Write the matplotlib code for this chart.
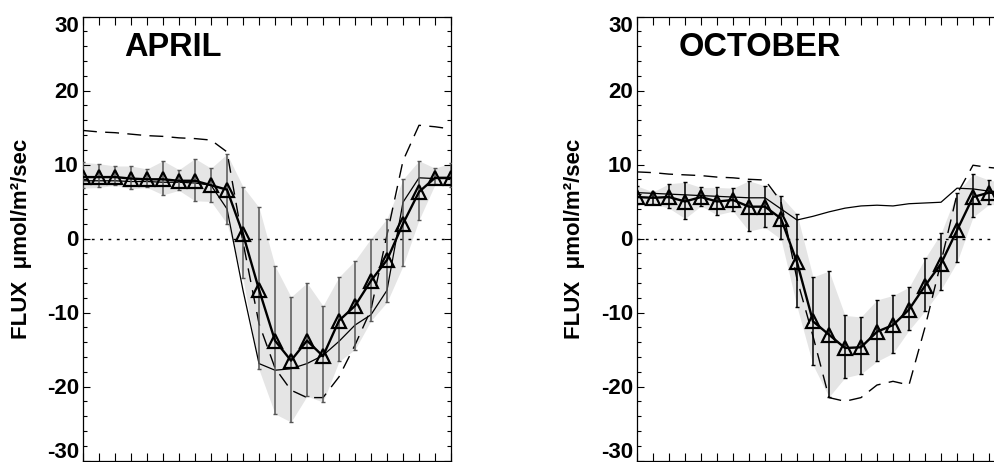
import matplotlib
matplotlib.use('Agg')
import matplotlib.pyplot as plt
import matplotlib.transforms as mtransforms
from matplotlib.ticker import MultipleLocator

plt.rcParams['font.family'] = ['Liberation Sans', 'DejaVu Sans']
plt.rcParams['font.weight'] = 'bold'
plt.rcParams['axes.unicode_minus'] = False

hours = list(range(24))

# APRIL: observed mean with error range, model (thin) and second model (dashed)
apr_mean = [8.3, 8.3, 8.3, 8.1, 8.0, 8.0, 7.8, 7.8, 7.2, 6.6, 0.6, -6.9,
            -13.8, -16.5, -13.8, -15.9, -11.1, -9.1, -5.7, -2.9, 2.0, 6.3, 8.2, 8.2]
apr_hi = [10.3, 10.1, 9.8, 9.8, 9.4, 10.5, 9.3, 10.8, 9.5, 11.4, 7.0, 4.2,
          -3.7, -7.9, -6.0, -9.1, -5.2, -3.0, 0.0, 2.7, 8.0, 10.5, 9.5, 10.2]
apr_lo = [6.8, 6.9, 7.2, 6.7, 6.9, 5.9, 6.5, 5.1, 5.0, 2.0, -5.4, -17.7,
          -23.7, -24.8, -21.3, -22.1, -16.6, -15.0, -11.1, -8.6, -3.7, 2.5, 7.3, 7.0]
apr_model = [7.8, 7.8, 7.8, 7.7, 7.7, 7.6, 7.6, 7.5, 7.2, 4.0, -7.0, -16.9,
             -17.8, -17.6, -16.9, -15.8, -13.9, -11.7, -10.3, -7.0, 4.9, 8.2, 8.1, 8.1]
apr_dash = [14.6, 14.4, 14.3, 14.1, 13.9, 13.8, 13.6, 13.5, 13.3, 11.7, -0.5, -11.5,
            -17.5, -20.5, -21.5, -21.5, -18.7, -14.4, -9.6, 0.5, 10.5, 15.3, 15.1, 14.8]

# OCTOBER
oct_mean = [5.6, 5.5, 5.6, 5.0, 5.6, 5.0, 5.2, 4.3, 4.3, 2.7, -3.2, -11.2,
            -13.0, -14.8, -14.7, -12.6, -11.7, -9.6, -6.4, -3.4, 1.1, 5.6, 6.2, 6.0]
oct_hi = [7.1, 6.3, 7.4, 7.6, 6.9, 6.9, 6.8, 7.8, 7.1, 5.7, 3.3, -5.2,
          -4.4, -10.4, -10.6, -8.3, -7.7, -6.6, -2.7, 0.7, 6.2, 8.7, 7.9, 7.5]
oct_lo = [4.6, 4.7, 4.1, 2.7, 4.4, 3.2, 3.7, 1.0, 1.5, -0.1, -9.2, -17.1,
          -21.4, -18.8, -18.3, -16.6, -15.5, -12.4, -9.8, -6.9, -3.2, 2.9, 4.6, 4.5]
oct_model = [6.2, 6.1, 6.0, 5.9, 5.8, 5.7, 5.6, 5.5, 5.5, 4.0, 2.5, 3.0,
             3.6, 4.1, 4.4, 4.5, 4.4, 4.7, 4.8, 4.9, 6.8, 6.7, 6.4, 6.3]
oct_dash = [9.0, 8.9, 8.7, 8.6, 8.5, 8.3, 8.2, 8.0, 7.9, 5.0, -5.5, -13.2,
            -21.5, -22.0, -21.5, -19.8, -19.3, -19.8, -12.0, -3.2, 6.0, 9.9, 9.6, 9.4]

YLABEL = 'FLUX  \u03bcmol/m\u00b2/sec'


def draw_panel(fig, rect, title, mean, lo, hi, model, dash, bar_color, label_x):
    ax = fig.add_axes(rect)
    ax.fill_between(hours, lo, hi, color='#e5e5e5', lw=0, zorder=1)
    ax.axhline(0, color='black', lw=1.0, ls=(0, (2, 4)), zorder=2)
    ax.plot(hours, model, color='black', lw=0.9, zorder=3)
    ax.plot(hours, dash, color='black', lw=1.0, ls=(0, (10, 6)), zorder=3)
    yerr = [[m - l for m, l in zip(mean, lo)], [h - m for m, h in zip(mean, hi)]]
    ax.errorbar(hours, mean, yerr=yerr, fmt='none', ecolor=bar_color,
                elinewidth=1.1, capsize=1.6, capthick=1.0, zorder=4)
    ax.plot(hours, mean, color='black', lw=1.7, marker='^', ms=10,
            mfc='none', mec='black', mew=1.6, zorder=5)

    ax.set_xlim(0, 23)
    ax.set_ylim(-30, 30)
    ax.set_xticks(hours)
    ax.set_yticks([-30, -20, -10, 0, 10, 20, 30])
    ax.yaxis.set_minor_locator(MultipleLocator(2))
    ax.tick_params(axis='x', which='both', direction='in', top=True, bottom=True,
                   length=6, width=0.8, labelbottom=False)
    ax.tick_params(axis='y', which='major', direction='in', left=True, right=True,
                   length=5, width=0.8, labelsize=16, pad=3)
    ax.tick_params(axis='y', which='minor', direction='in', left=True, right=True,
                   length=3, width=0.8)
    for sp in ax.spines.values():
        sp.set_linewidth(0.9)

    # keep end labels inside the frame
    ticks = ax.yaxis.get_major_ticks()
    for tk, dy in ((ticks[0], 11), (ticks[-1], -7)):
        lab = tk.label1
        lab.set_transform(lab.get_transform() +
                          mtransforms.ScaledTranslation(0, dy / 100, fig.dpi_scale_trans))

    ax.text(label_x, 0.5, YLABEL, transform=ax.transAxes, rotation=90,
            ha='center', va='center', fontsize=16, fontweight='bold')
    ax.text(2.6, 24.7, title, fontsize=23.5, fontweight='bold', va='baseline')
    return ax


fig = plt.figure(figsize=(9.94, 4.62), dpi=100)
W, H = 994, 462
draw_panel(fig, [83 / W, 1.5 / H, 368 / W, 444 / H], 'APRIL',
           apr_mean, apr_lo, apr_hi, apr_model, apr_dash, '#555555', -0.166)
draw_panel(fig, [637 / W, 1.5 / H, 368 / W, 444 / H], 'OCTOBER',
           oct_mean, oct_lo, oct_hi, oct_model, oct_dash, 'black', -0.171)

fig.savefig('out.png', dpi=100)
